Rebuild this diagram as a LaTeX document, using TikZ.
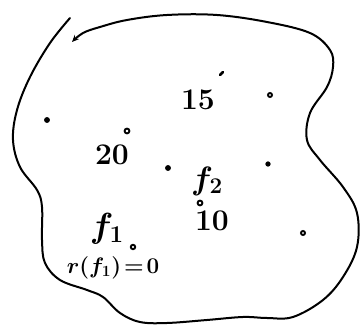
\documentclass[tikz,border=0pt]{standalone}
\usepackage{graphicx}
\usetikzlibrary{arrows.meta}
\begin{document}
\begin{tikzpicture}[x=1pt,y=-1pt,
  pen/.style={line width=2pt,line cap=round,line join=round},
  lbl/.style={inner sep=0pt,font=\fontsize{30}{30}\selectfont\bfseries\mathversion{bold}},
  flbl/.style={inner sep=0pt,font=\fontsize{24}{24}\selectfont\mathversion{bold}},
  sml/.style={inner sep=0pt,font=\fontsize{17}{17}\selectfont\bfseries\mathversion{bold}},
  fdot/.style={fill=black,draw=black,line width=0.8pt},
  odot/.style={draw=black,line width=1.9pt}]
\useasboundingbox (0,0) rectangle (360,328);
\draw[pen,-{Stealth[length=7pt,width=6pt]}] plot[smooth,tension=0.6] coordinates {
 (70,18) (50,43) (30,77) (17,110) (13,140) (20,167) (37,190) (42,207)
 (42,240) (45,263) (60,280) (87,290) (103,297) (120,313) (140,322)
 (167,323) (207,320) (243,317) (267,318) (293,317) (323,300) (343,277)
 (357,247) (357,213) (343,187) (320,160) (307,140) (310,113) (327,87)
 (333,67) (330,50) (310,33) (267,22) (217,15) (167,15) (127,20)
 (100,27) (83,33) (72,42)};
% labels
\node[lbl] (n15) at (198,100) {15};
\coordinate (t1) at (220,75);
\coordinate (t2) at (223,72);
\draw[pen,line width=2.5pt] (t1) -- (t2);
\node[lbl] (n20) at (112,155) {20};
\node[flbl] (f2) at (207,181) {\scalebox{1.3}{$f_2$}};
\node[lbl] (n10) at (212,221) {10};
\node[flbl] (f1) at (107,229) {\scalebox{1.4}{$f_1$}};
\node[sml] (r) at (113,268) {\scalebox{1.3}{$r(f_1)\!=\!0$}};
% points
\fill[fdot] (47,120) circle (2.5);
\fill[fdot] (168,168) circle (2.5);
\fill[fdot] (268,164) circle (2.2);
\draw[odot] (270,95) circle (2);
\draw[odot] (127,131) circle (2.4);
\draw[odot] (200,203) circle (2.4);
\draw[odot] (133,247) circle (2.2);
\draw[odot] (303,233) circle (2);
\end{tikzpicture}
\end{document}
